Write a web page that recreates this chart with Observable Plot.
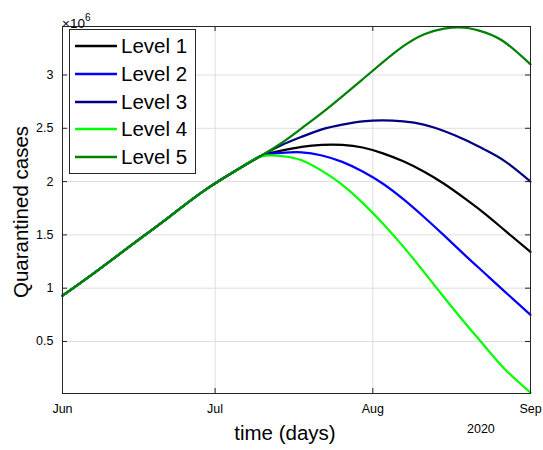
<!DOCTYPE html>
<html>
<head>
<meta charset="utf-8">
<script src="https://cdn.jsdelivr.net/npm/d3@7"></script>
<script src="https://cdn.jsdelivr.net/npm/@observablehq/plot@0.6"></script>
<style>
  html, body { margin: 0; padding: 0; background: #fff; }
  #wrap { position: relative; width: 543px; height: 450px; font-family: "Liberation Sans", Arial, Helvetica, sans-serif; color: #000; }
  .ov { position: absolute; white-space: nowrap; }
</style>
</head>
<body>
<div id="wrap"></div>
<script>
// ---- data (values in units of 10^6) ----
const dates = ["2020-06-01","2020-06-08","2020-06-15","2020-06-22","2020-06-29","2020-07-06","2020-07-10","2020-07-14","2020-07-18","2020-07-22","2020-07-26","2020-07-30","2020-08-03","2020-08-07","2020-08-11","2020-08-15","2020-08-19","2020-08-23","2020-08-27","2020-09-01"];
const level1 = [0.93,1.17,1.42,1.67,1.92,2.13,2.24,2.29,2.325,2.345,2.345,2.32,2.265,2.19,2.095,1.98,1.845,1.70,1.54,1.34];
const level2 = [0.93,1.17,1.42,1.67,1.92,2.13,2.24,2.27,2.275,2.245,2.185,2.095,1.98,1.835,1.67,1.495,1.315,1.14,0.965,0.75];
const level3 = [0.93,1.17,1.42,1.67,1.92,2.13,2.24,2.34,2.42,2.49,2.535,2.565,2.575,2.565,2.535,2.475,2.395,2.30,2.19,2.00];
const level4 = [0.93,1.17,1.42,1.67,1.92,2.13,2.235,2.24,2.20,2.10,1.97,1.80,1.605,1.39,1.155,0.915,0.68,0.455,0.238,0.02];
const level5 = [0.93,1.17,1.42,1.67,1.92,2.13,2.24,2.36,2.50,2.645,2.80,2.96,3.12,3.27,3.38,3.435,3.445,3.40,3.305,3.10];
const seriesNames = ["Level 1","Level 2","Level 3","Level 4","Level 5"];
const seriesColors = ["#000000","#0000ff","#000080","#00ff00","#008000"];
const yTicks = [0.5,1,1.5,2,2.5,3];
const xTickDates = ["2020-06-01","2020-07-01","2020-08-01","2020-09-01"];
const xTickLabels = ["Jun","Jul","Aug","Sep"];
const xLabel = "time (days)";
const yLabel = "Quarantined cases";
const yearLabel = "2020";

// ---- build table ----
const parse = d3.utcParse("%Y-%m-%d");
const allSeries = [level1, level2, level3, level4, level5];
const rows = [];
allSeries.forEach((vals, i) => vals.forEach((v, j) => rows.push({date: parse(dates[j]), value: v, series: seriesNames[i]})));
const xTicks = xTickDates.map(parse);

const W = 543, H = 450, mL = 62, mR = 13, mT = 26, mB = 57;
const pw = W - mL - mR, ph = H - mT - mB;
const axisColor = "#262626";

const chart = Plot.plot({
  width: W, height: H,
  marginLeft: mL, marginRight: mR, marginTop: mT, marginBottom: mB,
  style: {fontFamily: '"Liberation Sans", Arial, Helvetica, sans-serif', fontSize: "12.5px", color: "#000", background: "#fff", overflow: "visible"},
  x: {type: "utc", domain: [parse("2020-06-01"), parse("2020-09-01")]},
  y: {domain: [0.012, 3.455]},
  color: {domain: seriesNames, range: seriesColors},
  marks: [
    Plot.gridX(xTicks, {stroke: "#dedede", strokeOpacity: 1}),
    Plot.gridY(yTicks, {stroke: "#dedede", strokeOpacity: 1}),
    Plot.line(rows, {x: "date", y: "value", z: "series", stroke: "series", strokeWidth: 2.2, curve: "natural"}),
    // inward ticks on all four sides
    Plot.tickY(yTicks, {y: d => d, stroke: axisColor, insetRight: pw - 5}),
    Plot.tickY(yTicks, {y: d => d, stroke: axisColor, insetLeft: pw - 5}),
    Plot.tickX(xTicks, {x: d => d, stroke: axisColor, insetTop: ph - 5}),
    Plot.tickX(xTicks, {x: d => d, stroke: axisColor, insetBottom: ph - 5}),
    Plot.frame({stroke: axisColor, strokeWidth: 1}),
    Plot.axisY(yTicks, {anchor: "left", tickSize: 0, tickPadding: 9, tickFormat: d => String(d), label: null}),
    Plot.axisX(xTicks, {anchor: "bottom", tickSize: 0, tickPadding: 11, tickFormat: (d, i) => xTickLabels[i], label: null})
  ]
});

const wrap = document.getElementById("wrap");
chart.style.position = "absolute";
chart.style.left = "0px";
chart.style.top = "0px";
wrap.appendChild(chart);

function addText(txt, css) {
  const el = document.createElement("div");
  el.className = "ov";
  el.textContent = txt;
  Object.assign(el.style, css);
  wrap.appendChild(el);
  return el;
}

// exponent label
const expo = document.createElement("div");
expo.className = "ov";
expo.style.left = "62px"; expo.style.top = "11px"; expo.style.fontSize = "13.5px"; expo.style.lineHeight = "15px";
expo.innerHTML = "×10<sup style='font-size:10px; position:relative; top:-1px'>6</sup>";
wrap.appendChild(expo);

// axis labels
addText(xLabel, {left: "0px", width: "570px", textAlign: "center", top: "421px", fontSize: "20.5px", lineHeight: "24px"});
addText(yearLabel, {left: "467px", top: "421px", fontSize: "12.5px", lineHeight: "16px"});
addText(yLabel, {left: "21px", top: "212px", fontSize: "20.5px", lineHeight: "24px", transform: "translate(-50%,-50%) rotate(-90deg)"});

// legend
const leg = document.createElement("div");
leg.className = "ov";
Object.assign(leg.style, {left: "69px", top: "29px", width: "125px", height: "143px", border: "1px solid " + axisColor, background: "#fff"});
wrap.appendChild(leg);
const rowY = [16, 44, 71.5, 99, 126.5];
seriesNames.forEach((name, i) => {
  const ns = "http://www.w3.org/2000/svg";
  const s = document.createElementNS(ns, "svg");
  s.setAttribute("width", "44"); s.setAttribute("height", "6");
  s.style.position = "absolute"; s.style.left = "5px"; s.style.top = (rowY[i] - 3) + "px";
  const ln = document.createElementNS(ns, "line");
  ln.setAttribute("x1", "0"); ln.setAttribute("x2", "42"); ln.setAttribute("y1", "3"); ln.setAttribute("y2", "3");
  ln.setAttribute("stroke", seriesColors[i]); ln.setAttribute("stroke-width", "2.6");
  s.appendChild(ln);
  leg.appendChild(s);
  const t = document.createElement("div");
  t.className = "ov";
  t.textContent = name;
  Object.assign(t.style, {left: "51px", top: (rowY[i] - 12) + "px", fontSize: "20.5px", lineHeight: "24px"});
  leg.appendChild(t);
});
</script>
</body>
</html>
